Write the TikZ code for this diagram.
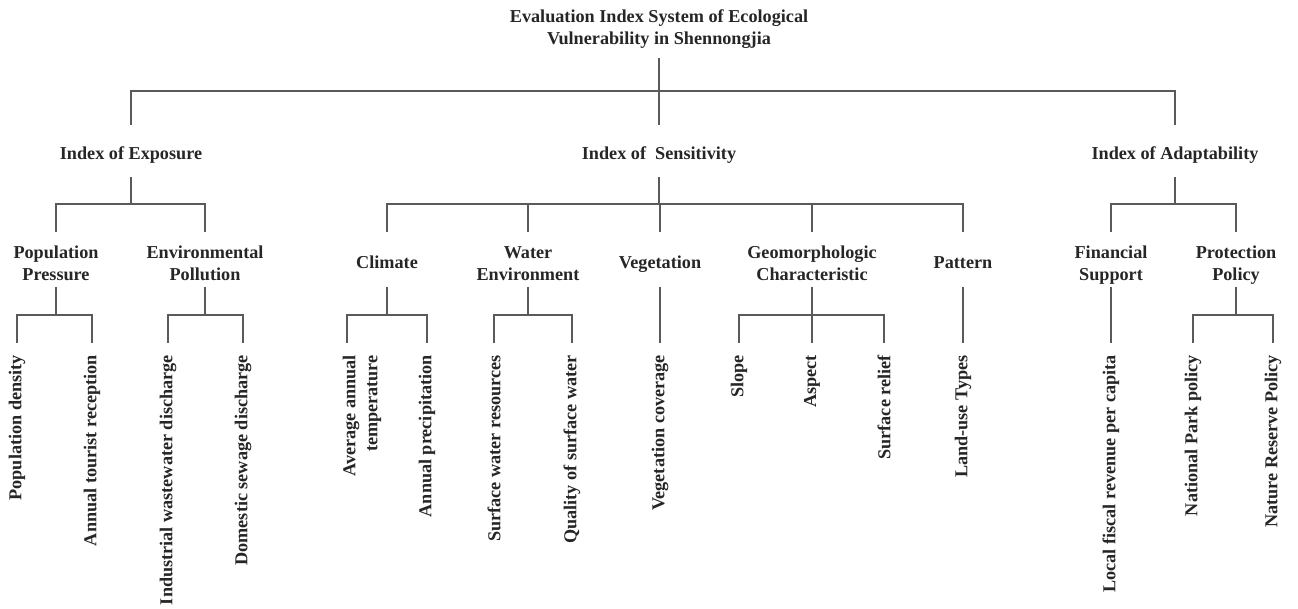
\documentclass[tikz,border=0pt]{standalone}
\usepackage{fontspec}
\setmainfont{Liberation Serif}
\definecolor{linegray}{HTML}{5A5A5A}
\definecolor{txtgray}{HTML}{262626}

\begin{document}
\begin{tikzpicture}[
x=0.75pt, y=-0.75pt,
every node/.style={font=\fontsize{13.65}{16.5}\selectfont\bfseries, text=txtgray, inner sep=0pt},
head/.style={align=center, anchor=base},
leaf/.style={rotate=90, anchor=east},
link/.style={draw=linegray, line width=1.1pt}
]
\useasboundingbox (0,0) rectangle (1298,608);

% Goal
\node[head] (root) at (659,44) {Evaluation Index System of Ecological\\Vulnerability in Shennongjia};

% Indices
\node[head] (expo) at (131,159) {Index of Exposure};
\node[head] (sens) at (659,159) {Index of\ \ Sensitivity};
\node[head] (adap) at (1175,159) {Index of Adaptability};

% Factors
\node[head] (popu) at (56,280) {Population\\Pressure};
\node[head] (envi) at (205,280) {Environmental\\Pollution};
\node[head] (clim) at (387,268) {Climate};
\node[head] (watr) at (528,280) {Water\\Environment};
\node[head] (vege) at (660,268) {Vegetation};
\node[head] (geom) at (812,280) {Geomorphologic\\Characteristic};
\node[head] (patt) at (963,268) {Pattern};
\node[head] (fina) at (1111,280) {Financial\\Support};
\node[head] (prot) at (1236,280) {Protection\\Policy};

% Indicators
\node[leaf] (pden) at (17,355) {Population density};
\node[leaf] (tour) at (92,355) {Annual tourist reception};
\node[leaf] (indw) at (168,355) {Industrial wastewater discharge};
\node[leaf] (sewa) at (243,355) {Domestic sewage discharge};
\node[leaf, align=right] (temp) at (362,355) {Average annual\\temperature};
\coordinate (tempx) at (347,343);
\node[leaf] (prec) at (427,355) {Annual precipitation};
\node[leaf] (swat) at (494,355) {Surface water resources};
\node[leaf] (qwat) at (572,355) {Quality of surface water};
\node[leaf] (vcov) at (660,355) {Vegetation coverage};
\node[leaf] (slop) at (739,355) {Slope};
\node[leaf] (aspe) at (812,355) {Aspect};
\node[leaf] (reli) at (884,355) {Surface relief};
\node[leaf] (land) at (963,355) {Land-use Types};
\node[leaf] (fisc) at (1111,355) {Local fiscal revenue per capita};
\node[leaf] (npar) at (1193,355) {National Park policy};
\node[leaf] (nres) at (1273,355) {Nature Reserve Policy};

% Goal to indices
\foreach \c in {expo,sens,adap}
  \draw[link] (root |- 0,58) |- (\c |- 0,91) -- (\c |- 0,125);

% Indices to factors
\foreach \c in {popu,envi}
  \draw[link] (expo |- 0,177) |- (\c |- 0,204) -- (\c |- 0,232);
\foreach \c in {clim,watr,vege,geom,patt}
  \draw[link] (sens |- 0,177) |- (\c |- 0,204) -- (\c |- 0,232);
\foreach \c in {fina,prot}
  \draw[link] (adap |- 0,177) |- (\c |- 0,204) -- (\c |- 0,232);

% Factors to indicators
\foreach \c in {pden,tour}
  \draw[link] (popu |- 0,287) |- (\c |- 0,315) -- (\c |- 0,343);
\foreach \c in {indw,sewa}
  \draw[link] (envi |- 0,287) |- (\c |- 0,315) -- (\c |- 0,343);
\foreach \c in {tempx,prec}
  \draw[link] (clim |- 0,287) |- (\c |- 0,315) -- (\c |- 0,343);
\foreach \c in {swat,qwat}
  \draw[link] (watr |- 0,287) |- (\c |- 0,315) -- (\c |- 0,343);
\foreach \c in {slop,aspe,reli}
  \draw[link] (geom |- 0,287) |- (\c |- 0,315) -- (\c |- 0,343);
\foreach \c in {npar,nres}
  \draw[link] (prot |- 0,287) |- (\c |- 0,315) -- (\c |- 0,343);
\draw[link] (vege |- 0,287) -- (vcov |- 0,343);
\draw[link] (patt |- 0,287) -- (land |- 0,343);
\draw[link] (fina |- 0,287) -- (fisc |- 0,343);

\end{tikzpicture}
\end{document}
